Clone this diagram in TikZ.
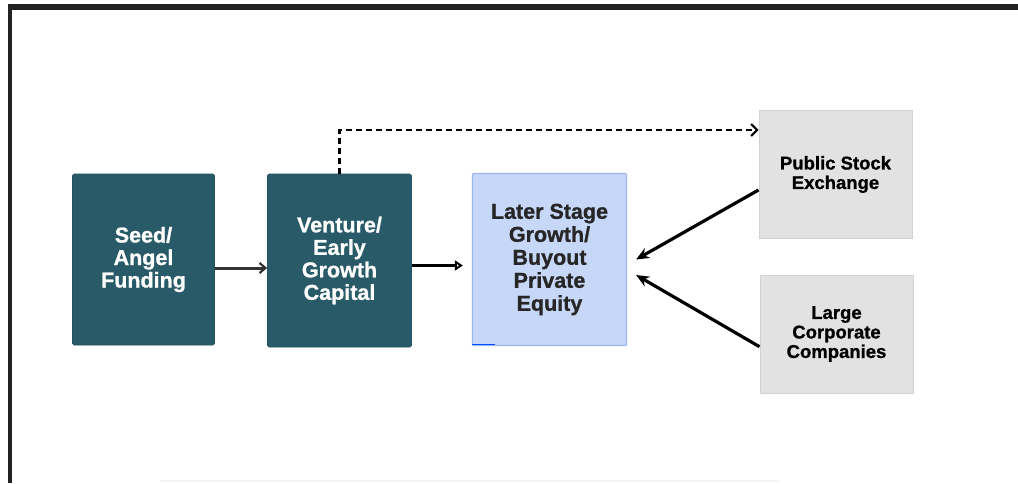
\documentclass[tikz,border=0pt]{standalone}
\usepackage{fontspec}
\setmainfont{Liberation Sans}
\newfontfamily\heavy{Liberation Sans Bold}[FakeBold=1]
\usetikzlibrary{arrows.meta}
\definecolor{tealbox}{HTML}{285A67}
\definecolor{bluebox}{HTML}{C6D7F7}
\definecolor{blueedge}{HTML}{9DB8EE}
\definecolor{graybox}{HTML}{E2E2E2}
\definecolor{grayedge}{HTML}{D2D2D2}
\definecolor{framec}{HTML}{222222}
\tikzset{
  darkbox/.style={fill=tealbox, draw=tealbox!90!black, line width=0.6pt, rounded corners=1.5pt,
    text=white, font=\heavy\fontsize{21.5}{22.5}\selectfont, align=center, inner sep=0pt},
  lightbox/.style={fill=bluebox, draw=blueedge, line width=1.2pt, rounded corners=1pt,
    text=black!85, font=\heavy\fontsize{21.5}{23}\selectfont, align=center, inner sep=0pt},
  graynode/.style={fill=graybox, draw=grayedge, line width=1pt,
    text=black, font=\heavy\fontsize{18.5}{19.5}\selectfont, align=center, inner sep=0pt},
  solidarrow/.style={line width=3.2pt, -{Stealth[length=13pt,width=11pt]}},
  openarrow/.style={line width=3.4pt, -{Triangle[open,length=8pt,width=10pt,line width=2.2pt]}},
  smallarrow/.style={line width=3pt, draw=black!80, -{Straight Barb[length=6pt,width=10pt,line width=2.2pt]}},
  dasharrow/.style={line width=2.3pt, dash pattern=on 6pt off 4pt, -{Straight Barb[length=6pt,width=12pt,line width=2pt]}}
}
\begin{document}
\begin{tikzpicture}[x=1pt,y=-1pt]
\useasboundingbox (0,0) rectangle (1018,483);
\fill[white] (0,0) rectangle (1018,483);
% frame
\draw[framec, line width=5.5pt] (8,7) -- (1018,7);
\draw[framec, line width=3.8pt] (10,4.5) -- (10,483);
\draw[black!4, line width=1.5pt] (160,481) -- (780,481);
% nodes
\node[darkbox, minimum width=142pt, minimum height=171pt] (seed) at (143.5,259.5) {Seed/\\Angel\\Funding};
\node[darkbox, minimum width=144pt, minimum height=173pt] (venture) at (339.5,260.5) {Venture/\\Early\\Growth\\Capital};
\node[lightbox, minimum width=154pt, minimum height=172pt] (later) at (549.5,259.5) {Later Stage\\Growth/\\Buyout\\Private\\Equity};
\node[graynode, minimum width=153pt, minimum height=128pt] (public) at (835.5,174.5) {Public Stock\\Exchange};
\node[graynode, minimum width=153pt, minimum height=118pt] (large) at (836.5,334) {Large\\Corporate\\Companies};
% small blue mark
\draw[blue!70!cyan, line width=1.5pt] ([yshift=1.5pt]later.south west) -- ++(23,0);
% connectors
\draw[smallarrow] ([yshift=-8.5pt]seed.east) -- ([yshift=-8.5pt]seed.east -| venture.west);
\draw[openarrow, shorten >=1pt] ([yshift=-5pt]venture.east) -- ([xshift=-8pt,yshift=-5pt]venture.east -| later.west);
\draw[dasharrow] (venture.north) |- ([yshift=-20pt]public.north west);
\draw[solidarrow] ([yshift=-15.5pt]public.west) -- ([xshift=9pt]later.east);
\draw[solidarrow] ([yshift=-12.7pt]large.west) -- ([xshift=9pt,yshift=-15.5pt]later.east);
\end{tikzpicture}
\end{document}
